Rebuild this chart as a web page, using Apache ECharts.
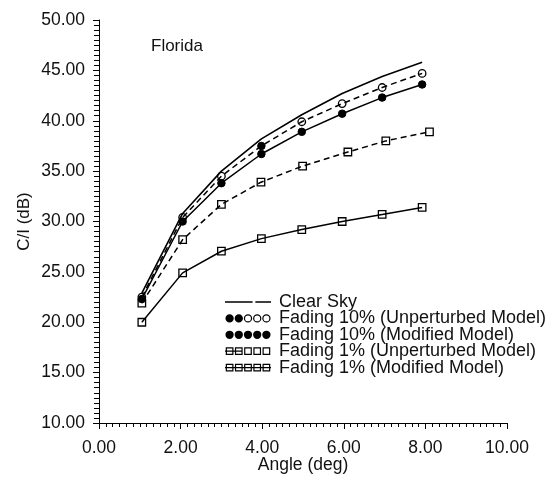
<!DOCTYPE html>
<html>
<head>
<meta charset="utf-8">
<script src="https://cdn.jsdelivr.net/npm/echarts@6/dist/echarts.min.js"></script>
<style>
  html, body { margin: 0; padding: 0; background: #fff; }
  #chart { width: 549px; height: 482px; }
</style>
</head>
<body>
<div id="chart"></div>
<script>
// Elevation angles (deg) of the computed points
const angles = [1.05, 2.05, 3.0, 3.98, 4.97, 5.96, 6.94, 7.92];
const anglesFade1Unperturbed = [1.05, 2.05, 3.0, 3.97, 4.99, 6.1, 7.03, 8.1];

// C/I (dB) per case
const clearSky = [22.9, 30.8, 35.0, 38.2, 40.6, 42.7, 44.4, 45.8];
const fade10Unperturbed = [22.5, 30.4, 34.5, 37.5, 39.9, 41.7, 43.3, 44.7];
const fade10Modified = [22.3, 30.0, 33.8, 36.7, 38.9, 40.7, 42.3, 43.6];
const fade1Unperturbed = [21.9, 28.2, 31.7, 33.9, 35.5, 36.9, 38.0, 38.9];
const fade1Modified = [20.0, 24.9, 27.05, 28.3, 29.2, 30.0, 30.7, 31.4];

const seriesNames = [
  'Clear Sky',
  'Fading 10% (Unperturbed Model)',
  'Fading 10% (Modified Model)',
  'Fading 1% (Unperturbed Model)',
  'Fading 1% (Modified Model)'
];

// Axis ranges and tick steps
const xRange = [0, 10], xStep = 2;
const yRange = [10, 50], yStep = 5;

const FONT = "'Liberation Sans', Arial, Helvetica, sans-serif";

const pairs = (xs, ys) => xs.map((x, i) => [x, ys[i]]);

// ---- legend icon paths (drawn in a 53 x 10 box, filled with nonzero winding) ----
const BOX = 'M0,0 M53,10 ';
function disc(cx, r) {
  return `M${cx + r},5 A${r},${r} 0 1,1 ${cx - r},5 A${r},${r} 0 1,1 ${cx + r},5 Z `;
}
function ring(cx, r, w) {
  const ri = r - w;
  return disc(cx, r) +
    `M${cx + ri},5 A${ri},${ri} 0 1,0 ${cx - ri},5 A${ri},${ri} 0 1,0 ${cx + ri},5 Z `;
}
function squareRing(cx, h, w) {
  const a = cx - h, b = cx + h, t = 5 - h, u = 5 + h;
  const ai = a + w, bi = b - w, ti = t + w, ui = u - w;
  return `M${a},${t} L${b},${t} L${b},${u} L${a},${u} Z ` +
    `M${ai},${ti} L${ai},${ui} L${bi},${ui} L${bi},${ti} Z `;
}
function bar(x0, x1, w) {
  return `M${x0},${5 - w / 2} L${x1},${5 - w / 2} L${x1},${5 + w / 2} L${x0},${5 + w / 2} Z `;
}
const centers = [5, 15, 25, 35, 45];
const iconClear = 'path://' + BOX + bar(0, 30, 1.5) + bar(33, 50, 1.5);
const iconFade10U = 'path://' + BOX + centers.map((c, i) => i < 2 ? disc(c, 4.5) : ring(c, 4.5, 1.3)).join('');
const iconFade10M = 'path://' + BOX + centers.map(c => disc(c, 4.5)).join('');
const iconFade1U = 'path://' + BOX + centers.map(c => squareRing(c, 4.2, 1.3)).join('') + bar(0, 19, 1.3);
const iconFade1M = 'path://' + BOX + centers.map(c => squareRing(c, 4.2, 1.3)).join('') + bar(0, 50, 1.3);

const chart = echarts.init(document.getElementById('chart'), null, { renderer: 'canvas' });

const openMarker = { color: 'transparent', borderColor: '#000', borderWidth: 1.3 };
const filledMarker = { color: '#000', borderColor: '#000', borderWidth: 1 };
const dashed = [6, 4];

chart.setOption({
  animation: false,
  backgroundColor: '#fff',
  title: {
    text: 'Florida',
    left: 151, top: 38, padding: 0,
    textStyle: { fontFamily: FONT, fontSize: 17, fontWeight: 'normal', color: '#111' }
  },
  grid: { left: 99, right: 42, top: 20, bottom: 59, containLabel: false },
  legend: {
    orient: 'vertical',
    left: 225, top: 293,
    padding: 0,
    itemGap: -1.6,
    itemWidth: 49, itemHeight: 9.2,
    selectedMode: false,
    itemStyle: { color: '#000', borderWidth: 0, borderColor: 'transparent' },
    textStyle: { fontFamily: FONT, fontSize: 18, color: '#111', lineHeight: 16 },
    data: [
      { name: seriesNames[0], icon: iconClear },
      { name: seriesNames[1], icon: iconFade10U },
      { name: seriesNames[2], icon: iconFade10M },
      { name: seriesNames[3], icon: iconFade1U },
      { name: seriesNames[4], icon: iconFade1M }
    ]
  },
  xAxis: {
    type: 'value',
    min: xRange[0], max: xRange[1], interval: xStep,
    name: 'Angle (deg)',
    nameLocation: 'middle', nameGap: 33, nameMoveOverlap: false,
    nameTextStyle: { fontFamily: FONT, fontSize: 17.5, color: '#111' },
    axisLine: { show: true, onZero: false, lineStyle: { color: '#000', width: 1 } },
    axisTick: { show: true, length: 6, lineStyle: { color: '#000', width: 1 } },
    minorTick: { show: true, splitNumber: 12, length: 4, lineStyle: { color: '#000', width: 1 } },
    splitLine: { show: false },
    axisLabel: {
      margin: 16, fontFamily: FONT, fontSize: 17.5, color: '#111',
      formatter: v => v.toFixed(2)
    }
  },
  yAxis: {
    type: 'value',
    min: yRange[0], max: yRange[1], interval: yStep,
    name: 'C/I (dB)',
    nameLocation: 'middle', nameGap: 66, nameRotate: 90, nameMoveOverlap: false,
    nameTextStyle: { fontFamily: FONT, fontSize: 17, color: '#111' },
    axisLine: { show: true, onZero: false, lineStyle: { color: '#000', width: 1 } },
    axisTick: { show: true, length: 6, lineStyle: { color: '#000', width: 1 } },
    minorTick: { show: true, splitNumber: 10, length: 5, lineStyle: { color: '#000', width: 1 } },
    splitLine: { show: false },
    axisLabel: {
      margin: 14, fontFamily: FONT, fontSize: 17.5, color: '#111',
      formatter: v => v.toFixed(2)
    }
  },
  series: [
    {
      name: seriesNames[0], type: 'line',
      data: pairs(angles, clearSky),
      symbol: 'none',
      lineStyle: { color: '#000', width: 1.6 },
      itemStyle: { color: '#000' }
    },
    {
      name: seriesNames[1], type: 'line',
      data: pairs(angles, fade10Unperturbed).map((p, i) =>
        i === 3 ? { value: p, itemStyle: filledMarker } : { value: p }),
      symbol: 'circle', symbolSize: 7.5,
      lineStyle: { color: '#000', width: 1.5, type: dashed },
      itemStyle: openMarker
    },
    {
      name: seriesNames[2], type: 'line',
      data: pairs(angles, fade10Modified),
      symbol: 'circle', symbolSize: 7.5,
      lineStyle: { color: '#000', width: 1.5 },
      itemStyle: filledMarker
    },
    {
      name: seriesNames[3], type: 'line',
      data: pairs(anglesFade1Unperturbed, fade1Unperturbed),
      symbol: 'rect', symbolSize: 7.5,
      lineStyle: { color: '#000', width: 1.5, type: dashed },
      itemStyle: openMarker
    },
    {
      name: seriesNames[4], type: 'line',
      data: pairs(angles, fade1Modified),
      symbol: 'rect', symbolSize: 7.5,
      lineStyle: { color: '#000', width: 1.5 },
      itemStyle: openMarker
    }
  ]
});
</script>
</body>
</html>
